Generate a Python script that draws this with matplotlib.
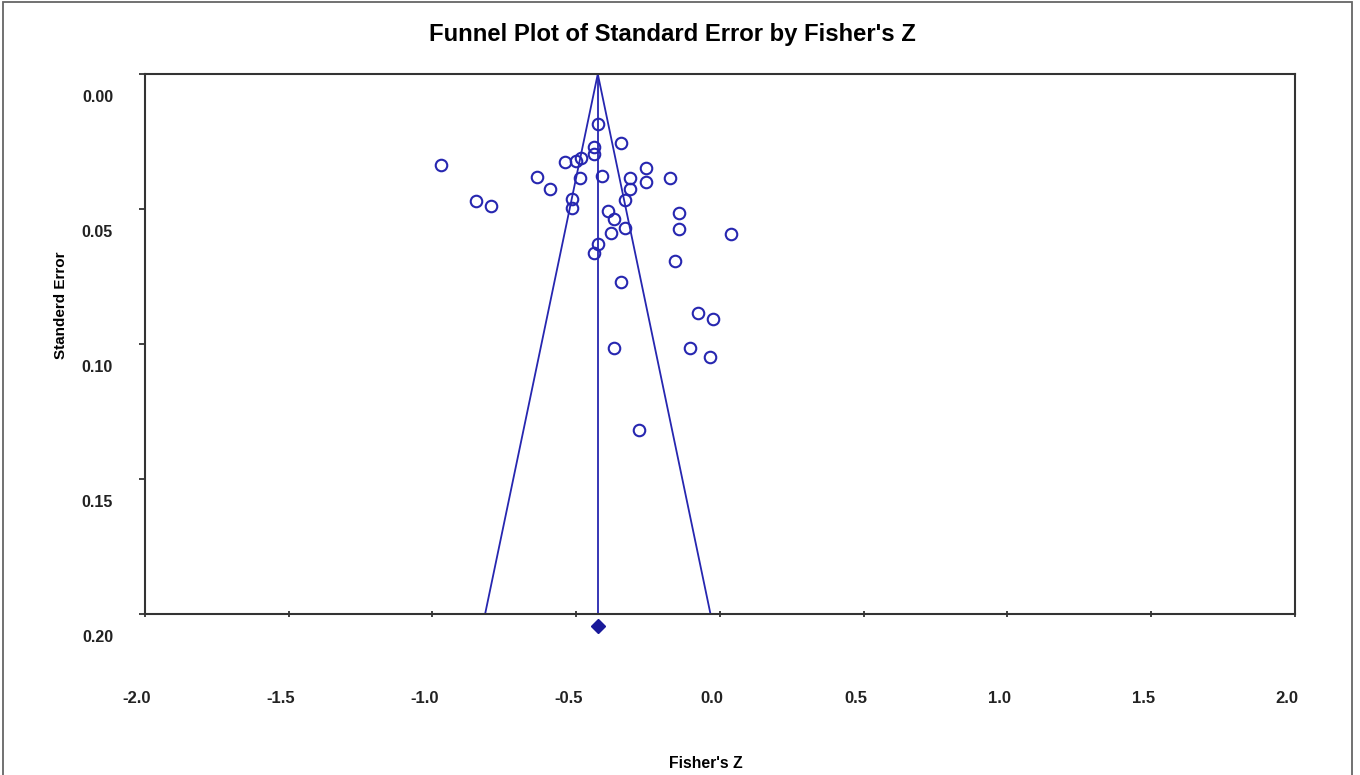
import matplotlib.pyplot as plt
import matplotlib.transforms as mtransforms
from matplotlib.patches import Rectangle

# study effects (Fisher's Z) and their standard errors
fisher_z = [-0.424, -0.344, -0.439, -0.439, -0.971, -0.539, -0.500, -0.483, -0.257, -0.635,
            -0.486, -0.412, -0.313, -0.257, -0.173, -0.591, -0.313, -0.848, -0.795, -0.513,
            -0.513, -0.332, -0.389, -0.367, -0.143, -0.143, -0.332, -0.378, 0.039, -0.423,
            -0.439, -0.156, -0.344, -0.075, -0.023, -0.367, -0.104, -0.035, -0.282]
std_err = [0.0185, 0.0257, 0.0269, 0.0297, 0.0338, 0.0325, 0.0321, 0.0312, 0.0349, 0.0380,
           0.0386, 0.0378, 0.0386, 0.0399, 0.0386, 0.0427, 0.0427, 0.0470, 0.0489, 0.0463,
           0.0495, 0.0467, 0.0507, 0.0538, 0.0516, 0.0575, 0.0569, 0.0588, 0.0593, 0.0629,
           0.0662, 0.0691, 0.0769, 0.0886, 0.0909, 0.1014, 0.1014, 0.1049, 0.1319]
summary_z = -0.425
se_max = 0.2
diamond_se = 0.2043

x_ticks = [-2.0, -1.5, -1.0, -0.5, 0.0, 0.5, 1.0, 1.5, 2.0]
y_ticks = [0.00, 0.05, 0.10, 0.15, 0.20]

blue = '#2626b0'
font = 'Liberation Sans'

fig = plt.figure(figsize=(13.6, 7.75), dpi=100)
ax = fig.add_axes([0.1066, 0.2077, 0.8456, 0.6968])

# funnel: 95% limits around the summary effect
ax.plot([summary_z - 1.96 * se_max, summary_z, summary_z + 1.96 * se_max], [se_max, 0, se_max],
        color=blue, lw=1.3)
ax.plot([summary_z, summary_z], [0, se_max], color=blue, lw=1.3)
ax.plot(fisher_z, std_err, 'o', ms=8.3, mfc='none', mec=blue, mew=1.5, linestyle='none')
ax.plot([summary_z], [diamond_se], marker='D', ms=7, color='#1a1a9a', clip_on=False)

ax.set_xlim(-2.0, 2.0)
ax.set_ylim(0.2, 0.0)
ax.set_xticks(x_ticks)
ax.set_xticklabels(['%.1f' % t for t in x_ticks])
ax.set_yticks(y_ticks)
ax.set_yticklabels(['%.2f' % t for t in y_ticks])
ax.tick_params(axis='x', direction='inout', length=5, width=1.2, pad=53, colors='#222222')
ax.tick_params(axis='y', direction='out', length=4, width=1.2, pad=19, colors='#222222')
for sp in ax.spines.values():
    sp.set_linewidth(1.5)
    sp.set_color('#333333')

# labels sit a bit off their ticks, like the original program draws them
for lab in ax.get_xticklabels():
    lab.set_fontfamily(font)
    lab.set_fontweight('bold')
    lab.set_fontsize(12)
    lab.set_transform(lab.get_transform() + mtransforms.ScaledTranslation(-0.08, 0, fig.dpi_scale_trans))
for lab in ax.get_yticklabels():
    lab.set_fontfamily(font)
    lab.set_fontweight('bold')
    lab.set_fontsize(11.5)
    lab.set_transform(lab.get_transform() + mtransforms.ScaledTranslation(0, -0.22, fig.dpi_scale_trans))

fig.text(672 / 1360, 1 - 34 / 775, "Funnel Plot of Standard Error by Fisher's Z", ha='center', va='center',
         fontsize=17.2, fontweight='bold', family=font)
fig.text(706 / 1360, 1 - 763 / 775, "Fisher's Z", ha='center', va='center',
         fontsize=11.3, fontweight='bold', family=font)
fig.text(61 / 1360, 1 - 305 / 775, "Standerd Error", ha='center', va='center', rotation=90,
         fontsize=11, fontweight='bold', family=font)

fig.patches.append(Rectangle((3 / 1360, -0.01), 1349 / 1360, 1.007, transform=fig.transFigure,
                             fill=False, edgecolor='#666666', lw=1.3))

plt.savefig('out.png', dpi=100)
